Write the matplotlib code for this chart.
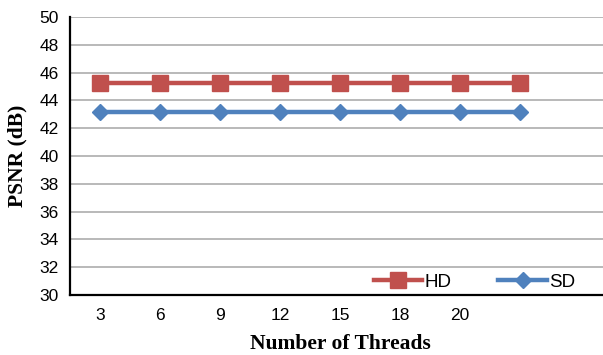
import matplotlib.pyplot as plt

# ── Data ──────────────────────────────────────────────────────────────────────
threads = ["3", "6", "9", "12", "15", "18", "20", ""]
psnr_hd = [45.25, 45.25, 45.25, 45.25, 45.25, 45.25, 45.25, 45.25]
psnr_sd = [43.2, 43.2, 43.2, 43.2, 43.2, 43.2, 43.2, 43.2]

HD_COLOR = "#C0504D"
SD_COLOR = "#4F81BD"

# ── Figure ────────────────────────────────────────────────────────────────────
fig = plt.figure(figsize=(6.03, 3.55), dpi=100)
ax = fig.add_axes([70 / 603, 60 / 355, 540 / 603, 278 / 355])

x = list(range(len(threads)))
ax.plot(x, psnr_hd, color=HD_COLOR, lw=3.2, marker="s", ms=11.5,
        mec=HD_COLOR, mfc=HD_COLOR, label="HD", zorder=3)
ax.plot(x, psnr_sd, color=SD_COLOR, lw=3.2, marker="D", ms=8.2,
        mec=SD_COLOR, mfc=SD_COLOR, label="SD", zorder=3)

ax.set_xlim(-0.5, 8.5)
ax.set_ylim(30, 50)
ax.set_yticks(range(30, 51, 2))
ax.set_xticks(x)
ax.set_xticklabels(threads)

ax.yaxis.grid(True, color="#A6A6A6", lw=1.1)
ax.set_axisbelow(True)
ax.tick_params(axis="both", length=0, labelsize=12.5)
ax.tick_params(axis="y", pad=8)
ax.tick_params(axis="x", pad=9)
for lab in ax.get_xticklabels() + ax.get_yticklabels():
    lab.set_fontfamily("Liberation Sans")

for side in ("top", "right"):
    ax.spines[side].set_visible(False)
for side in ("left", "bottom"):
    ax.spines[side].set_linewidth(1.6)
    ax.spines[side].set_color("black")

ax.set_ylabel("PSNR (dB)", fontfamily="Liberation Serif", fontweight="bold",
              fontsize=15.5, labelpad=9)
ax.set_xlabel("Number of Threads", fontfamily="Liberation Serif",
              fontweight="bold", fontsize=15.5, labelpad=8)

ax.legend(loc="center right", bbox_to_anchor=(0.935, 0.045), ncol=2,
          frameon=False, handlelength=2.6, handletextpad=0.1,
          columnspacing=2.5, borderpad=0, borderaxespad=0,
          prop={"family": "Liberation Sans", "size": 13.5})

fig.savefig("out.png", dpi=100)
